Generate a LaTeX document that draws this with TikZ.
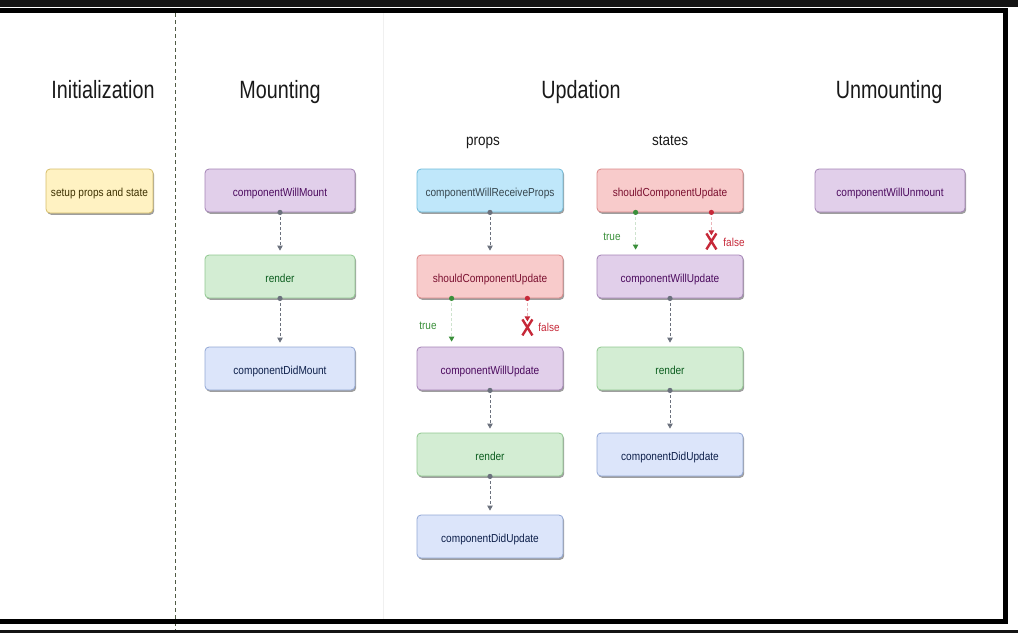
\documentclass[tikz,border=0pt]{standalone}
\usepackage{fontspec}
\setmainfont{Liberation Sans}[FakeStretch=0.87]
\newfontfamily\headfont{Liberation Sans}[FakeStretch=0.79]
\usetikzlibrary{arrows.meta,shadows,calc}

% palette
\definecolor{bandgray}{HTML}{141414}
\definecolor{divider}{HTML}{4F5A44}
\definecolor{conngray}{HTML}{6B717D}
\definecolor{yelfill}{HTML}{FFF2C2}\definecolor{yeldraw}{HTML}{D6BE6A}\definecolor{yeltext}{HTML}{3D3000}
\definecolor{purfill}{HTML}{E1CFEA}\definecolor{purdraw}{HTML}{A383B5}\definecolor{purtext}{HTML}{4B0A5E}
\definecolor{grnfill}{HTML}{D3EDD3}\definecolor{grndraw}{HTML}{90C890}\definecolor{grntext}{HTML}{0B5D1E}
\definecolor{blufill}{HTML}{DCE5FA}\definecolor{bludraw}{HTML}{92A7D5}\definecolor{blutext}{HTML}{0D1F4A}
\definecolor{cyafill}{HTML}{BFE7FA}\definecolor{cyadraw}{HTML}{6FBBDA}\definecolor{cyatext}{HTML}{37474F}
\definecolor{redfill}{HTML}{F8CBCB}\definecolor{reddraw}{HTML}{D98787}\definecolor{redtext}{HTML}{7B1030}
\definecolor{truegreen}{HTML}{3A8F3A}
\definecolor{falsered}{HTML}{C62838}

\begin{document}
\begin{tikzpicture}[x=1pt,y=-1pt,
  title/.style={anchor=base,font=\headfont\fontsize{25}{30}\selectfont,text=black!90},
  subtitle/.style={anchor=base,font=\fontsize{15.5}{18}\selectfont,text=black!90},
  box/.style={rounded corners=4pt,line width=0.8pt,minimum width=146pt,minimum height=43pt,
    inner sep=3pt,text height=12pt,text depth=1pt,font=\fontsize{11.6}{14}\selectfont,
    drop shadow={shadow xshift=1.2pt,shadow yshift=-1.8pt,opacity=0.38,fill=black}},
  yelbox/.style={box,fill=yelfill,draw=yeldraw,text=yeltext},
  purbox/.style={box,fill=purfill,draw=purdraw,text=purtext},
  grnbox/.style={box,fill=grnfill,draw=grndraw,text=grntext},
  blubox/.style={box,fill=blufill,draw=bludraw,text=blutext},
  cyabox/.style={box,fill=cyafill,draw=cyadraw,text=cyatext},
  redbox/.style={box,fill=redfill,draw=reddraw,text=redtext},
  conn/.style={draw=conngray,line width=0.8pt,dash pattern=on 3pt off 2pt,
    -{Triangle[length=5pt,width=5.5pt,fill=conngray]},shorten >=4pt},
  trueconn/.style={draw=truegreen!25,line width=0.8pt,dash pattern=on 3pt off 2pt,
    -{Triangle[length=5pt,width=5.5pt,color=truegreen]},shorten >=5pt},
  falseconn/.style={draw=falsered!35,line width=0.8pt,dash pattern=on 3pt off 2pt,
    -{Triangle[length=5pt,width=5.5pt,color=falsered]}},
  cross/.style={draw=falsered,line width=2.4pt},
  lbl/.style={font=\fontsize{11.5}{14}\selectfont},
]
\useasboundingbox (0,0) rectangle (1018,633);

% column divider and faint column edge
\draw[divider,line width=0.8pt,dash pattern=on 4pt off 3pt] (175,13) -- (175,633);
\draw[black!6,line width=0.8pt] (383,13) -- (383,619);

% frame
\fill[bandgray] (0,0) rectangle (1018,7);
\fill[bandgray] (0,630) rectangle (1018,633);
\fill[black] (0,8) rectangle (1008,13);
\fill[black] (0,619) rectangle (1008,624);
\fill[black] (1003,8) rectangle (1008,624);

% column headings
\node[title] (tinit) at (103,98) {Initialization};
\node[title] (tmount) at (280,98) {Mounting};
\node[title] (tupd) at (581,98) {Updation};
\node[title] (tunm) at (889,98) {Unmounting};
\node[subtitle] (tprops) at (483,145) {props};
\node[subtitle] (tstates) at (670,145) {states};

% initialization
\node[yelbox,minimum width=107pt,minimum height=44pt] (setup) at (99.5,191) {setup props and state};

% mounting
\node[purbox,minimum width=150pt] (cwm) at (280,190.5) {componentWillMount};
\node[grnbox,minimum width=150pt] (rm) at (280,276.5) {render};
\node[blubox,minimum width=150pt] (cdm) at (280,368.5) {componentDidMount};

% updation: props
\node[cyabox] (cwrp) at (490,190.5) {componentWillReceiveProps};
\node[redbox] (scu1) at (490,276.5) {shouldComponentUpdate};
\node[purbox] (cwu1) at (490,368.5) {componentWillUpdate};
\node[grnbox] (r1) at (490,454.5) {render};
\node[blubox] (cdu1) at (490,536.5) {componentDidUpdate};

% updation: states
\node[redbox] (scu2) at (670,190.5) {shouldComponentUpdate};
\node[purbox] (cwu2) at (670,276.5) {componentWillUpdate};
\node[grnbox] (r2) at (670,368.5) {render};
\node[blubox] (cdu2) at (670,454.5) {componentDidUpdate};

% unmounting
\node[purbox,minimum width=150pt] (cwun) at (890,190.5) {componentWillUnmount};

% plain lifecycle connectors
\foreach \a/\b in {cwm/rm, rm/cdm, cwrp/scu1, cwu1/r1, r1/cdu1, cwu2/r2, r2/cdu2}{
  \draw[conn] (\a.south) -- (\b.north);
  \fill[conngray] (\a.south) circle (2.6pt);
}

% shouldComponentUpdate branches (props)
\coordinate (gd1) at ($(scu1.south west)+(35,0)$);
\coordinate (rd1) at ($(scu1.south east)+(-36,0)$);
\coordinate (rt1) at ($(rd1)+(0,23)$);
\coordinate (rx1) at ($(rd1)+(0,29)$);
\draw[trueconn] (gd1) -- (gd1 |- cwu1.north);
\draw[falseconn] (rd1) -- (rt1);
\fill[truegreen] (gd1) circle (2.6pt);
\fill[falsered] (rd1) circle (2.6pt);
\draw[cross] ($(rx1)+(-5,-8)$) -- ($(rx1)+(5,8)$) ($(rx1)+(5,-8)$) -- ($(rx1)+(-5,8)$);
\node[lbl,text=truegreen] (true1) at (428,326) {true};
\node[lbl,text=falsered] (false1) at (549,327.5) {false};

% shouldComponentUpdate branches (states)
\coordinate (gd2) at ($(scu2.south west)+(39,0)$);
\coordinate (rd2) at ($(scu2.south east)+(-32,0)$);
\coordinate (rt2) at ($(rd2)+(0,23)$);
\coordinate (rx2) at ($(rd2)+(0,29)$);
\draw[trueconn] (gd2) -- (gd2 |- cwu2.north);
\draw[falseconn] (rd2) -- (rt2);
\fill[truegreen] (gd2) circle (2.6pt);
\fill[falsered] (rd2) circle (2.6pt);
\draw[cross] ($(rx2)+(-5,-8)$) -- ($(rx2)+(5,8)$) ($(rx2)+(5,-8)$) -- ($(rx2)+(-5,8)$);
\node[lbl,text=truegreen] (true2) at (612,237) {true};
\node[lbl,text=falsered] (false2) at (734,242) {false};
\end{tikzpicture}
\end{document}
